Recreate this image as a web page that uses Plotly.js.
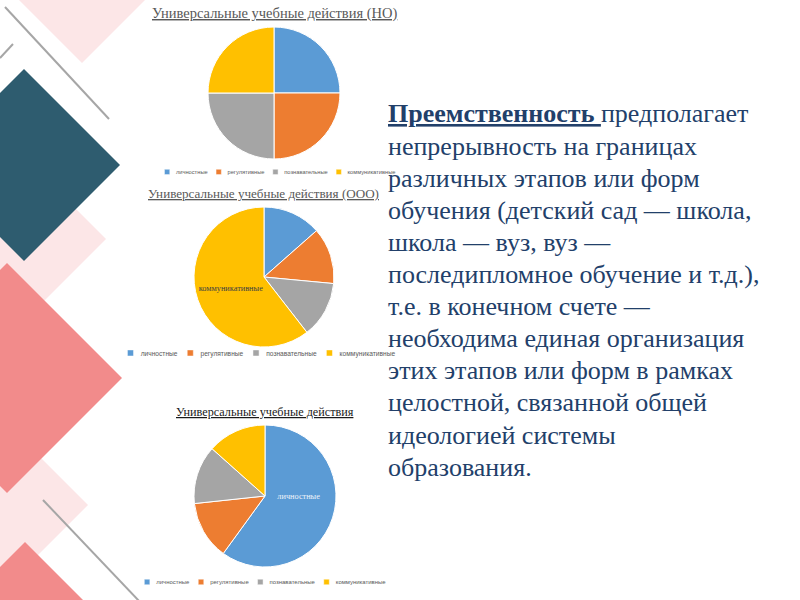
<!DOCTYPE html>
<html><head><meta charset="utf-8">
<script src="https://cdn.plot.ly/plotly-3.0.1.min.js"></script>
<style>html,body{margin:0;padding:0;background:#fff;}#chart{width:800px;height:600px;}</style>
</head><body><div id="chart"></div>
<script>
// ---- data ----
const categories = ['личностные', 'регулятивные', 'познавательные', 'коммуникативные'];
const valuesNO = [25, 25, 25, 25];
const valuesOOO = [13.5, 13, 13, 60.5];
const valuesAll = [60, 13.3, 13.3, 13.4];
const sliceLabelsOOO = ['', '', '', 'коммуникативные'];
const sliceLabelsAll = ['личностные<br> <br> ', '', '', ''];
const chartTitles = ['Универсальные учебные действия (НО)', 'Универсальные учебные действия (ООО)', 'Универсальные учебные действия'];
const keyWord = 'Преемственность';
const bodyLines = [
  'предполагает',
  'непрерывность на границах',
  'различных этапов или форм',
  'обучения (детский сад — школа,',
  'школа — вуз, вуз —',
  'последипломное обучение и т.д.),',
  'т.е. в конечном счете —',
  'необходима единая организация',
  'этих этапов или форм в рамках',
  'целостной, связанной общей',
  'идеологией системы',
  'образования.'
];

// ---- styling ----
const W = 800, H = 600;
const px = x => x / W;
const py = y => 1 - y / H;
const sliceColors = ['#5b9bd5', '#ed7d31', '#a5a5a5', '#ffc000'];
const serif = 'Liberation Serif, Times New Roman, serif';
const sans = 'Liberation Sans, Arial, sans-serif';
const textBlue = '#22406a';

function domainPx(cx, cy, r) {
  return {x: [px(cx - r), px(cx + r)], y: [py(cy + r), py(cy - r)]};
}
function pieTrace(values, text, textColor, dom, legendId) {
  return {
    type: 'pie', labels: categories, values: values, sort: false,
    direction: 'clockwise', rotation: 0, domain: dom,
    marker: {colors: sliceColors, line: {color: '#ffffff', width: 1}},
    text: text, textinfo: text ? 'text' : 'none', textposition: 'inside',
    insidetextorientation: 'horizontal',
    textfont: {family: serif, size: 8.3, color: textColor},
    hoverinfo: 'none', legend: legendId, legendgroup: 'grp_' + legendId, showlegend: true
  };
}
const data = [
  pieTrace(valuesNO, null, '#404040', domainPx(274, 93, 66), 'legend'),
  pieTrace(valuesOOO, sliceLabelsOOO, '#404040', domainPx(264, 277, 70), 'legend2'),
  pieTrace(valuesAll, sliceLabelsAll, '#eef3fa', domainPx(265, 496, 71), 'legend3')
];

function diamond(cx, cy, r, color) {
  return {type: 'path', xref: 'paper', yref: 'paper', layer: 'below',
    path: `M ${px(cx)} ${py(cy - r)} L ${px(cx + r)} ${py(cy)} L ${px(cx)} ${py(cy + r)} L ${px(cx - r)} ${py(cy)} Z`,
    fillcolor: color, line: {width: 0}};
}
function seg(x0, y0, x1, y1) {
  return {type: 'line', xref: 'paper', yref: 'paper', layer: 'below',
    x0: px(x0), y0: py(y0), x1: px(x1), y1: py(y1), line: {color: '#a6a6a6', width: 2}};
}
const lightPink = '#fce6e7', teal = '#2e5c6f', salmon = '#f28b8b';
const shapes = [
  diamond(82, -20, 83, lightPink),
  seg(5, 7, 109, 119),
  seg(0, 58, 13, 44),
  diamond(10, 239, 96, lightPink),
  diamond(24, 165, 96, teal),
  diamond(-8, 505, 96, lightPink),
  diamond(7, 378, 115, salmon),
  diamond(25, 657, 115, salmon),
  seg(43, 500, 140, 602)
];

const annotations = [];
const titleCfg = [
  {x: 274, y: 14, size: 14.5, color: '#595959'},
  {x: 263, y: 194, size: 13.1, color: '#595959'},
  {x: 265, y: 412, size: 12.2, color: '#1a1a1a'}
];
chartTitles.forEach((t, i) => {
  const c = titleCfg[i];
  annotations.push({xref: 'paper', yref: 'paper', x: px(c.x), y: py(c.y), xanchor: 'center', yanchor: 'middle',
    showarrow: false, text: '<u>' + t + '</u>', font: {family: serif, size: c.size, color: c.color}});
});
bodyLines.forEach((line, i) => {
  const txt = i === 0 ? '<b><u>' + keyWord + '\u00a0</u></b>' + line : line;
  annotations.push({xref: 'paper', yref: 'paper', x: px(386), y: py(114 + i * 32.1), xanchor: 'left', yanchor: 'middle',
    showarrow: false, text: txt, font: {family: serif, size: 26, color: textBlue}});
});

const legendBase = {orientation: 'h', x: 0, y: 1, xanchor: 'left', yanchor: 'top', bgcolor: 'rgba(0,0,0,0)',
  font: {family: sans, size: 13, color: '#595959'}, traceorder: 'normal'};
const layout = {
  width: W, height: H, margin: {l: 0, r: 0, t: 0, b: 0},
  paper_bgcolor: '#ffffff', plot_bgcolor: '#ffffff',
  shapes: shapes, annotations: annotations,
  legend: Object.assign({}, legendBase),
  legend2: Object.assign({}, legendBase),
  legend3: Object.assign({}, legendBase)
};

const legendFit = [
  {id: 'legend', cx: 278, cy: 172, s: 0.44},
  {id: 'legend2', cx: 259, cy: 353, s: 0.51},
  {id: 'legend3', cx: 263, cy: 582, s: 0.46}
];
const gd = document.getElementById('chart');
function fitLegends() {
  legendFit.forEach(c => {
    const g = gd.querySelector('g.' + c.id);
    if (!g) return;
    const bg = g.querySelector('rect.bg');
    const w = bg ? +bg.getAttribute('width') : g.getBBox().width;
    const h = bg ? +bg.getAttribute('height') : g.getBBox().height;
    g.setAttribute('transform', `translate(${c.cx - c.s * w / 2},${c.cy - c.s * h / 2}) scale(${c.s})`);
  });
}
Plotly.newPlot(gd, data, layout, {displayModeBar: false, staticPlot: true}).then(() => {
  fitLegends();
  gd.on('plotly_afterplot', fitLegends);
});
</script>
</body></html>
